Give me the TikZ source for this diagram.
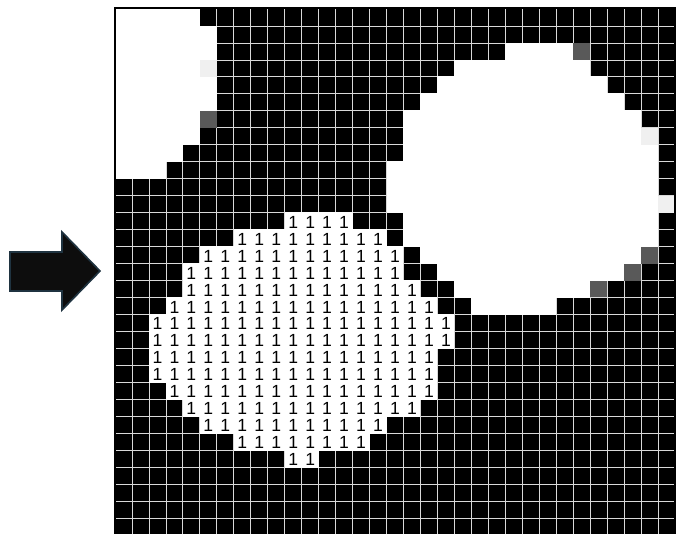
\documentclass[tikz,border=0pt]{standalone}
\usepackage{fontspec}
\setmainfont{Liberation Sans}
\usepackage{tikz}
\usetikzlibrary{positioning}

\definecolor{arrowedge}{HTML}{1F3340}
\newcommand{\cellsz}{16.97}

\begin{document}
\begin{tikzpicture}[x=0.03cm, y=-0.03cm,
  gridln/.style={draw=gray!30, line width=0.7pt},
  whitecell/.style={fill=white},
  lightnoise/.style={fill=black!6},
  darknoise/.style={fill=black!65},
  onelbl/.style={font=\fontsize{15}{15}\selectfont, inner sep=0pt, text=black},
  bigarrow/.style={fill=black!95, draw=arrowedge, line width=1.4pt, line join=miter}
]
\useasboundingbox (0,0) rectangle (679,533);
\clip (0,0) rectangle (679,533);

\draw[bigarrow] (10,252) -- (62,252) -- (62,232) -- (100,271) -- (62,310) -- (62,291) -- (10,291) -- cycle;

\fill[black] (115,9) rectangle (675,535);
\foreach \k in {1,...,32}
  \draw[gridln] ({115+\cellsz*\k},9) -- ({115+\cellsz*\k},535);
\foreach \k in {1,...,30}
  \draw[gridln] (115,{9+\cellsz*\k}) -- (675,{9+\cellsz*\k});

% white regions, one span per row
\foreach \r/\a/\b in {0/0/4, 1/0/5, 2/0/5, 3/0/4, 4/0/5, 5/0/5, 6/0/4, 7/0/4, 8/0/3, 9/0/2,
    2/23/26, 3/20/27, 4/19/28, 5/18/29, 6/17/30, 7/17/30, 8/17/31, 9/16/31, 10/16/31,
    11/16/31, 12/17/31, 13/17/31, 14/18/30, 15/19/29, 16/20/27, 17/21/25,
    12/10/13, 13/7/15, 14/5/16, 15/4/16, 16/4/17, 17/3/18, 18/2/19, 19/2/19, 20/2/18,
    21/2/18, 22/3/18, 23/4/17, 24/5/15, 25/7/14, 26/10/11}
  \fill[whitecell] ({115+\cellsz*\a},{9+\cellsz*\r-0.4}) rectangle ({115+\cellsz*(\b+1)},{9+\cellsz*(\r+1)+0.4});

\foreach \c/\r in {5/3, 31/7, 32/11}
  \fill[lightnoise] ({115+\cellsz*\c},{9+\cellsz*\r}) rectangle ++(\cellsz,\cellsz);
\foreach \c/\r in {27/2, 5/6, 31/14, 30/15, 28/16}
  \fill[darknoise] ({115+\cellsz*\c},{9+\cellsz*\r}) rectangle ++(\cellsz,\cellsz);

\foreach \r/\a/\b in {12/10/13, 13/7/15, 14/5/16, 15/4/16, 16/4/17, 17/3/18, 18/2/19, 19/2/19,
    20/2/18, 21/2/18, 22/3/18, 23/4/17, 24/5/15, 25/7/14, 26/10/11}
  \foreach \c in {\a,...,\b}
    \node[onelbl] (one-\r-\c) at ({115+\cellsz*(\c+0.5)},{9+\cellsz*(\r+0.5)+1}) {1};

\draw[line width=1.3pt] (115,8) rectangle (675,535);

\end{tikzpicture}
\end{document}
